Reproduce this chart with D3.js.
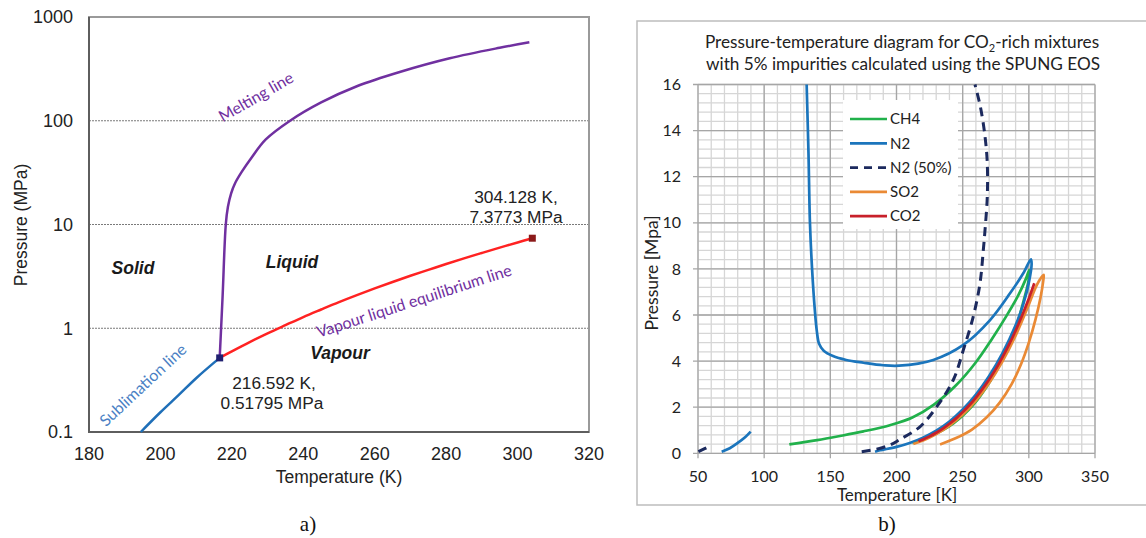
<!DOCTYPE html>
<html>
<head>
<meta charset="utf-8">
<script src="https://cdn.jsdelivr.net/npm/d3@7"></script>
<style>
  body { margin: 0; background: #fff; }
  text { font-family: "Liberation Sans", Arial, sans-serif; }
</style>
</head>
<body>
<script>
// ---------- panel a) : pure CO2 phase diagram ----------
const aTempTicks  = [180, 200, 220, 240, 260, 280, 300, 320];
const aPressTicks = [0.1, 1, 10, 100, 1000];
const aGridLines  = [1, 10, 100];

const sublT = [194.5, 200, 205, 210, 216.592];
const sublP = [0.1, 0.155, 0.225, 0.33, 0.51795];

const meltT = [216.592, 217.4, 218.3, 218.9, 219.8, 220.9, 222.8, 225.5, 229.5, 236.3, 245, 255, 267, 281, 295, 303.3];
const meltP = [0.51795, 2, 10, 14.8, 20, 25, 32.3, 44, 66, 100, 150, 215, 295, 400, 505, 570];

const vleT = [216.592, 220, 225, 230, 235, 240, 245, 250, 255, 260, 265, 270, 275, 280, 285, 290, 295, 300, 304.128];
const vleP = [0.51795, 0.5991, 0.7357, 0.8929, 1.072, 1.2825, 1.5154, 1.785, 2.0843, 2.4188, 2.7942, 3.2033, 3.6496, 4.1607, 4.7143, 5.3177, 5.9875, 6.7131, 7.3773];

const pointNames = ["triple", "critical"];
const pointT = [216.592, 304.128];
const pointP = [0.51795, 7.3773];

// ---------- panel b) : CO2-rich mixtures ----------
const bTempTicks  = [50, 100, 150, 200, 250, 300, 350];
const bPressTicks = [0, 2, 4, 6, 8, 10, 12, 14, 16];

const ch4T = [119, 140, 157.3, 175, 195, 212, 228, 245, 260, 272, 283, 292, 298, 300.3, 299.8, 296, 290.5, 282, 271, 258, 243, 225, 212];
const ch4P = [0.39, 0.57, 0.75, 0.95, 1.22, 1.55, 2.1, 2.95, 3.95, 4.95, 5.95, 6.85, 7.6, 7.95, 7.5, 6.6, 5.5, 4.3, 3.15, 2.1, 1.3, 0.72, 0.45];

const n2T = [132.1, 133.5, 134.6, 136.2, 138.3, 139.8, 141.5, 145, 152, 162, 175, 190, 202, 227.8, 250.5, 270.7, 285.8, 295.8, 301.6, 302.1, 300, 296, 290, 280, 270, 260, 250, 240, 230, 220, 210, 200, 190, 187.5, 183.8];
const n2P = [16, 13, 10, 8, 6.2, 5.3, 4.75, 4.45, 4.22, 4.05, 3.93, 3.82, 3.8, 4.05, 4.7, 5.78, 6.94, 7.81, 8.42, 8.2, 7.4, 6.5, 5.55, 4.33, 3.35, 2.55, 1.9, 1.38, 0.98, 0.68, 0.45, 0.28, 0.16, 0.13, 0.07];
const n2LowT = [67.9, 74, 80, 86, 89.8];
const n2LowP = [0.07, 0.22, 0.45, 0.72, 0.94];

const n2halfT = [173.7, 185, 195.1, 202.6, 217.7, 230.4, 242.9, 250.5, 258, 263.1, 265.6, 266.9, 268.6, 268.6, 266.9, 263.5, 259.3];
const n2halfP = [0.07, 0.18, 0.36, 0.6, 1.15, 2.02, 3.18, 4.48, 5.93, 7.38, 8.82, 9.69, 11.13, 12.58, 13.74, 15, 16];
const n2halfLowT = [50.3, 55, 60.3];
const n2halfLowP = [0.07, 0.2, 0.36];

const so2T = [212.7, 220, 230, 240, 250, 260, 270, 280, 290, 300, 306, 311.2, 310.8, 308.8, 305, 300, 294, 287, 278, 268, 257, 245, 232.9];
const so2P = [0.4, 0.55, 0.83, 1.2, 1.68, 2.29, 3.05, 3.98, 5.1, 6.45, 7.3, 7.74, 7.45, 6.75, 5.8, 4.8, 3.85, 3.0, 2.2, 1.55, 1.03, 0.66, 0.38];

const legendNames = ["CH4", "N2", "N2 (50%)", "SO2", "CO2"];

const zip = (a, b) => a.map((v, i) => [v, b[i]]);

const svg = d3.select("body").append("svg")
  .attr("width", 1146).attr("height", 538);

// =====================================================================
// panel a
// =====================================================================
const ax = d3.scaleLinear().domain([180, 320]).range([89, 589]);
const ay = d3.scaleLog().domain([0.1, 1000]).range([432, 17]);

const ga = svg.append("g");

// dotted grid lines
ga.selectAll(".agrid").data(aGridLines).enter().append("line")
  .attr("x1", ax(180)).attr("x2", ax(320))
  .attr("y1", d => ay(d)).attr("y2", d => ay(d))
  .attr("stroke", "#7a7a7a").attr("stroke-width", 1).attr("stroke-dasharray", "2,1");

// frame
ga.append("rect")
  .attr("x", ax(180)).attr("y", ay(1000))
  .attr("width", ax(320) - ax(180)).attr("height", ay(0.1) - ay(1000))
  .attr("fill", "none").attr("stroke", "#9a9a9a").attr("stroke-width", 2);
ga.append("path")
  .attr("d", `M${ax(180)},${ay(1000)}V${ay(0.1)}H${ax(320)}`)
  .attr("fill", "none").attr("stroke", "#5e5e5e").attr("stroke-width", 2);

// axes labels (no tick marks on this one)
ga.selectAll(".axt").data(aTempTicks).enter().append("text")
  .attr("x", d => ax(d)).attr("y", 460)
  .attr("text-anchor", "middle").style("font-size", "18px").attr("fill", "#222")
  .text(d => d);
ga.selectAll(".ayt").data(aPressTicks).enter().append("text")
  .attr("x", 73).attr("y", d => ay(d)).attr("dy", "0.35em")
  .attr("text-anchor", "end").style("font-size", "18px").attr("fill", "#222")
  .text(d => d);

ga.append("text").attr("x", 339).attr("y", 483)
  .attr("text-anchor", "middle").style("font-size", "17.5px").attr("fill", "#222")
  .text("Temperature (K)");
ga.append("text").attr("transform", "translate(27,225) rotate(-90)")
  .attr("text-anchor", "middle").style("font-size", "17.5px").attr("fill", "#222")
  .text("Pressure (MPa)");

const aLine = d3.line().x(d => ax(d[0])).y(d => ay(d[1])).curve(d3.curveCatmullRom.alpha(0.5));

ga.append("path").datum(zip(sublT, sublP)).attr("d", aLine)
  .attr("fill", "none").attr("stroke", "#1f6fb8").attr("stroke-width", 2.5);
ga.append("path").datum(zip(meltT, meltP)).attr("d", aLine)
  .attr("fill", "none").attr("stroke", "#7030a0").attr("stroke-width", 2.5);
ga.append("path").datum(zip(vleT, vleP)).attr("d", aLine)
  .attr("fill", "none").attr("stroke", "#ff2222").attr("stroke-width", 2.5);

// triple and critical point markers
const markerCol = {triple: "#202070", critical: "#8b1a1a"};
ga.selectAll(".pt").data(pointNames).enter().append("rect")
  .attr("x", (d, i) => ax(pointT[i]) - 3.5).attr("y", (d, i) => ay(pointP[i]) - 3.5)
  .attr("width", 7).attr("height", 7)
  .attr("fill", d => markerCol[d]);

// region names
const regions = [["Solid", 133, 268], ["Liquid", 292, 262], ["Vapour", 340, 353]];
ga.selectAll(".reg").data(regions).enter().append("text")
  .attr("x", d => d[1]).attr("y", d => d[2]).attr("dy", "0.35em")
  .attr("text-anchor", "middle")
  .style("font-size", "17.5px").style("font-weight", "bold").style("font-style", "italic")
  .attr("fill", "#1a1a1a")
  .text(d => d[0]);

// point annotations
ga.append("text").attr("x", 516).attr("y", 203).attr("text-anchor", "middle")
  .style("font-size", "17.3px").attr("fill", "#222").text("304.128 K,");
ga.append("text").attr("x", 516).attr("y", 223).attr("text-anchor", "middle")
  .style("font-size", "17.3px").attr("fill", "#222").text("7.3773 MPa");
ga.append("text").attr("x", 274).attr("y", 389).attr("text-anchor", "middle")
  .style("font-size", "17.3px").attr("fill", "#222").text("216.592 K,");
ga.append("text").attr("x", 272).attr("y", 409).attr("text-anchor", "middle")
  .style("font-size", "17.3px").attr("fill", "#222").text("0.51795 MPa");

// line names (written along the curves)
const curveNames = [
  ["Melting line", 256, 97, -30, "#7030a0"],
  ["Sublimation line", 143, 385, -43, "#4a7fc4"],
  ["Vapour liquid equilibrium line", 414, 301, -18, "#7030a0"]
];
ga.selectAll(".cname").data(curveNames).enter().append("text")
  .attr("transform", d => `translate(${d[1]},${d[2]}) rotate(${d[3]})`)
  .attr("text-anchor", "middle").attr("dy", "0.35em")
  .style("font-family", "Lato, sans-serif").style("font-size", "16px")
  .attr("fill", d => d[4])
  .text(d => d[0]);

svg.append("text").attr("x", 308).attr("y", 531).attr("text-anchor", "middle")
  .style("font-family", "'Liberation Serif', serif").style("font-size", "21px").attr("fill", "#111")
  .text("a)");

// =====================================================================
// panel b
// =====================================================================
const bx = d3.scaleLinear().domain([50, 350]).range([698, 1095]);
const by = d3.scaleLinear().domain([0, 16]).range([453.3, 84.5]);

const gb = svg.append("g").style("font-family", "Lato, sans-serif");

gb.append("rect").attr("x", 637).attr("y", 21).attr("width", 520).attr("height", 484)
  .attr("fill", "#fff").attr("stroke", "#bdbdbd").attr("stroke-width", 1.5);

// minor grid then major grid
const minorX = d3.range(50, 351, 10), minorY = d3.range(0, 16.01, 0.4);
gb.selectAll(".mgx").data(minorX).enter().append("line")
  .attr("x1", d => bx(d)).attr("x2", d => bx(d)).attr("y1", by(0)).attr("y2", by(16))
  .attr("stroke", "#d6d6d6").attr("stroke-width", 1.3);
gb.selectAll(".mgy").data(minorY).enter().append("line")
  .attr("y1", d => by(d)).attr("y2", d => by(d)).attr("x1", bx(50)).attr("x2", bx(350))
  .attr("stroke", "#d6d6d6").attr("stroke-width", 1.3);
gb.selectAll(".gx").data(bTempTicks).enter().append("line")
  .attr("x1", d => bx(d)).attr("x2", d => bx(d)).attr("y1", by(0) + 5).attr("y2", by(16))
  .attr("stroke", "#a6a6a6").attr("stroke-width", 1.3);
gb.selectAll(".gy").data(bPressTicks).enter().append("line")
  .attr("y1", d => by(d)).attr("y2", d => by(d)).attr("x1", bx(50) - 5).attr("x2", bx(350))
  .attr("stroke", "#a6a6a6").attr("stroke-width", 1.3);

gb.selectAll(".bxt").data(bTempTicks).enter().append("text")
  .attr("x", d => bx(d)).attr("y", 482).attr("text-anchor", "middle")
  .style("font-family", "Lato, sans-serif").style("font-size", "16px").attr("fill", "#222")
  .text(d => d);
gb.selectAll(".byt").data(bPressTicks).enter().append("text")
  .attr("x", 681).attr("y", d => by(d)).attr("dy", "0.35em").attr("text-anchor", "end")
  .style("font-family", "Lato, sans-serif").style("font-size", "16px").attr("fill", "#222")
  .text(d => d);

gb.append("text").attr("x", 897).attr("y", 501).attr("text-anchor", "middle")
  .style("font-family", "Lato, sans-serif").style("font-size", "17px").attr("fill", "#222")
  .text("Temperature [K]");
gb.append("text").attr("transform", "translate(658,273) rotate(-90)").attr("text-anchor", "middle")
  .style("font-family", "Lato, sans-serif").style("font-size", "17.5px").attr("fill", "#222")
  .text("Pressure [Mpa]");

// title
const t1 = gb.append("text").attr("x", 902).attr("y", 48).attr("text-anchor", "middle")
  .style("font-family", "Lato, sans-serif").style("font-size", "17.2px").attr("fill", "#222");
t1.append("tspan").text("Pressure-temperature diagram for CO");
t1.append("tspan").attr("dy", 4).style("font-size", "11px").text("2");
t1.append("tspan").attr("dy", -4).text("-rich mixtures");
gb.append("text").attr("x", 903).attr("y", 70).attr("text-anchor", "middle")
  .style("font-family", "Lato, sans-serif").style("font-size", "17.2px").attr("fill", "#222")
  .text("with 5% impurities calculated using the SPUNG EOS");

// series
const seriesStyle = {
  "CH4":      {color: "#21b14b", dash: null},
  "N2":       {color: "#1b75bc", dash: null},
  "N2 (50%)": {color: "#1c2a5e", dash: "9,6"},
  "SO2":      {color: "#ea8a35", dash: null},
  "CO2":      {color: "#c8202a", dash: null}
};
const series = [
  {name: "CH4", parts: [zip(ch4T, ch4P)]},
  {name: "N2", parts: [zip(n2T, n2P), zip(n2LowT, n2LowP)]},
  {name: "N2 (50%)", parts: [zip(n2halfT, n2halfP), zip(n2halfLowT, n2halfLowP)]},
  {name: "SO2", parts: [zip(so2T, so2P)]},
  {name: "CO2", parts: [zip(vleT, vleP)]}
];

const bLine = d3.line().x(d => bx(d[0])).y(d => by(d[1])).curve(d3.curveCatmullRom.alpha(0.5));

series.forEach(s => {
  s.parts.forEach(p => {
    gb.append("path").datum(p).attr("d", bLine)
      .attr("fill", "none")
      .attr("stroke", seriesStyle[s.name].color)
      .attr("stroke-width", s.name == "N2 (50%)" ? 3 : 2.7)
      .attr("stroke-dasharray", seriesStyle[s.name].dash);
  });
});

// legend
gb.append("rect").attr("x", 843).attr("y", 100).attr("width", 115).attr("height", 129).attr("fill", "#fff");
const leg = gb.selectAll(".leg").data(legendNames).enter().append("g")
  .attr("transform", (d, i) => `translate(850,${119 + i * 24.3})`);
leg.append("line").attr("x1", 0).attr("x2", 37)
  .attr("stroke", d => seriesStyle[d].color).attr("stroke-width", 2.7)
  .attr("stroke-dasharray", d => seriesStyle[d].dash ? "8,6" : null);
leg.append("text").attr("x", 40).attr("dy", "0.35em")
  .style("font-family", "Lato, sans-serif").style("font-size", "15px").attr("fill", "#222")
  .text(d => d);

svg.append("text").attr("x", 887).attr("y", 531).attr("text-anchor", "middle")
  .style("font-family", "'Liberation Serif', serif").style("font-size", "21px").attr("fill", "#111")
  .text("b)");
</script>
</body>
</html>
